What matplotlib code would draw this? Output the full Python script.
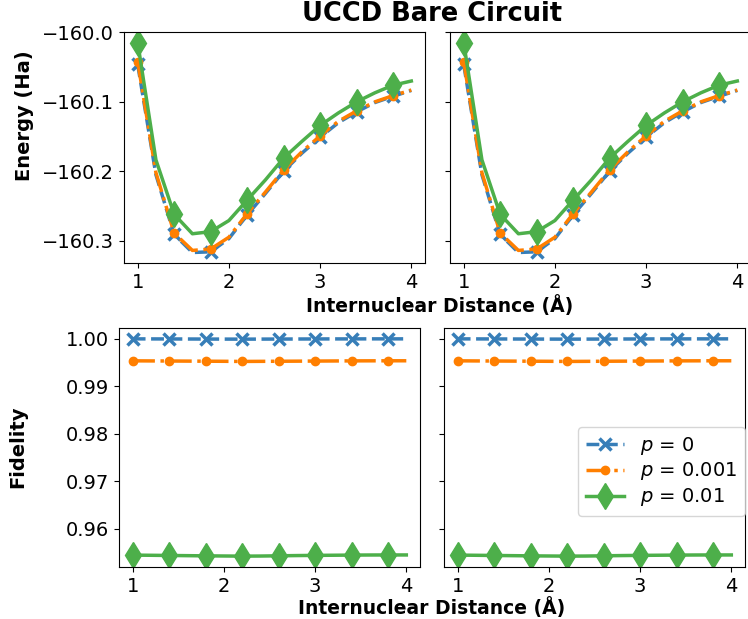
import numpy as np
import matplotlib
matplotlib.use("Agg")
import matplotlib.pyplot as plt

# bond lengths (Angstrom)
dist = [1.0, 1.2, 1.4, 1.6, 1.8, 2.0, 2.2, 2.4, 2.6, 2.8, 3.0, 3.2, 3.4, 3.6, 3.8, 4.0]

# energies (Ha)
e_p0 = [-160.046, -160.205, -160.291, -160.317, -160.316, -160.297, -160.263, -160.232,
        -160.200, -160.174, -160.151, -160.130, -160.1145, -160.101, -160.092, -160.0835]
e_p001 = [-160.042, -160.202, -160.289, -160.314, -160.312, -160.295, -160.261, -160.230,
          -160.198, -160.172, -160.149, -160.128, -160.113, -160.100, -160.091, -160.083]
e_p01 = [-160.0145, -160.1836, -160.262, -160.290, -160.287, -160.271, -160.2415, -160.2125,
         -160.181, -160.157, -160.134, -160.116, -160.100, -160.087, -160.076, -160.070]

# fidelities
f_p0 = [0.99998, 0.99997, 0.99996, 0.99995, 0.99994, 0.99993, 0.99992, 0.99993,
        0.99994, 0.99995, 0.99996, 0.99997, 0.99997, 0.99998, 0.99998, 0.99998]
f_p001 = [0.99535, 0.99533, 0.99531, 0.99529, 0.99527, 0.99525, 0.99522, 0.99524,
          0.99526, 0.99528, 0.99530, 0.99532, 0.99534, 0.99535, 0.99536, 0.99536]
f_p01 = [0.95440, 0.95436, 0.95432, 0.95428, 0.95424, 0.95421, 0.95418, 0.95420,
         0.95425, 0.95430, 0.95434, 0.95437, 0.95440, 0.95442, 0.95443, 0.95443]

labels = ['$p$ = 0', '$p$ = 0.001', '$p$ = 0.01']
colors = ['#377eb8', '#ff7f00', '#4daf4a']

plt.rcParams['font.size'] = 14

fig, axes = plt.subplots(2, 2, figsize=(7.48, 6.19), dpi=100)
W, H = 748, 619

def place(ax, x0, x1, y0, y1):
    ax.set_position([x0 / W, 1 - y1 / H, (x1 - x0) / W, (y1 - y0) / H])

place(axes[0, 0], 124, 425, 32, 263)
place(axes[0, 1], 450, 751, 32, 263)
place(axes[1, 0], 119, 420, 328, 567)
place(axes[1, 1], 444, 745, 328, 567)

def draw(ax, ys):
    ax.plot(dist, ys[0], linestyle='--', marker='x', color=colors[0], lw=2.5,
            ms=9, mew=2.5, markevery=2, label=labels[0])
    ax.plot(dist, ys[1], linestyle='-.', marker='o', color=colors[1], lw=2.5,
            ms=6, markevery=2, label=labels[1])
    ax.plot(dist, ys[2], linestyle='-', marker='d', color=colors[2], lw=2.5,
            ms=13, markevery=2, label=labels[2])
    ax.set_xticks([1, 2, 3, 4])

for ax in axes[0]:
    draw(ax, [e_p0, e_p001, e_p01])
for ax in axes[1]:
    draw(ax, [f_p0, f_p001, f_p01])

axes[0, 1].set_ylim(axes[0, 0].get_ylim())
axes[1, 1].set_ylim(axes[1, 0].get_ylim())
axes[0, 1].tick_params(labelleft=False)
axes[1, 1].tick_params(labelleft=False)
axes[0, 0].set_yticks([-160.0, -160.1, -160.2, -160.3])
axes[1, 0].set_yticks([0.96, 0.97, 0.98, 0.99, 1.00])
axes[1, 0].set_yticklabels(['0.96', '0.97', '0.98', '0.99', '1.00'])
axes[0, 1].set_yticks([-160.0, -160.1, -160.2, -160.3])
axes[1, 1].set_yticks([0.96, 0.97, 0.98, 0.99, 1.00])

axes[1, 1].legend(loc='lower right', bbox_to_anchor=(1.0, 0.213), borderaxespad=0,
                  fontsize=14, labelspacing=0.2)

fig.text(432 / W, 1 - 14 / H, 'UCCD Bare Circuit', ha='center', va='center',
         fontsize=18.5, fontweight='bold')
fig.text(440 / W, 1 - 306 / H, 'Internuclear Distance (Å)', ha='center', va='center',
         fontsize=13.5, fontweight='bold')
fig.text(432 / W, 1 - 608 / H, 'Internuclear Distance (Å)', ha='center', va='center',
         fontsize=13.5, fontweight='bold')
fig.text(24 / W, 1 - 116 / H, 'Energy (Ha)', ha='center', va='center', rotation=90,
         fontsize=14, fontweight='bold')
fig.text(18 / W, 1 - 447 / H, 'Fidelity', ha='center', va='center', rotation=90,
         fontsize=14, fontweight='bold')

fig.savefig('out.png', dpi=100)
